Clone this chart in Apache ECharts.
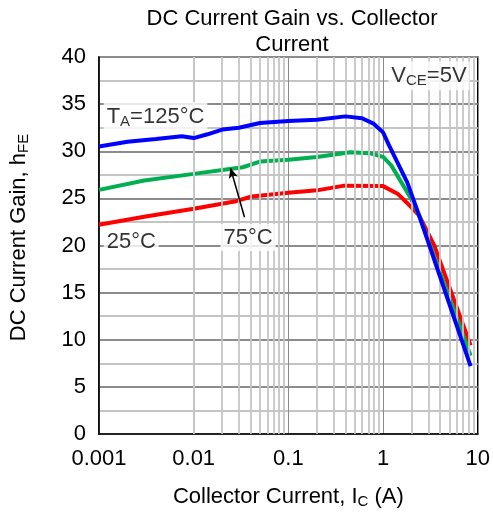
<!DOCTYPE html>
<html>
<head>
<meta charset="utf-8">
<script src="https://cdn.jsdelivr.net/npm/echarts@6/dist/echarts.min.js"></script>
<style>
  html, body { margin: 0; padding: 0; background: #fff; }
  #chart { width: 493px; height: 514px; }
</style>
</head>
<body>
<div id="chart"></div>
<script>
// collector current (A) and gain
var ic125 = [0.001, 0.002, 0.004, 0.0075, 0.01, 0.014, 0.02, 0.03, 0.05, 0.1, 0.2, 0.4, 0.6, 0.8, 1.0, 1.16, 1.8, 2.4, 8.4];
var hfe125 = [30.5, 31.0, 31.3, 31.6, 31.4, 31.8, 32.3, 32.5, 33.0, 33.2, 33.35, 33.7, 33.5, 32.9, 32.0, 30.6, 26.7, 23.2, 7.2];

var ic75 = [0.001, 0.003, 0.01, 0.023, 0.033, 0.05, 0.1, 0.2, 0.45, 0.72, 1.0, 1.22, 1.97, 2.4, 8.4];
var hfe75 = [25.9, 26.9, 27.6, 28.1, 28.3, 28.9, 29.1, 29.4, 29.9, 29.8, 29.4, 28.5, 25.0, 23.2, 8.3];

var ic25 = [0.001, 0.003, 0.01, 0.028, 0.041, 0.1, 0.2, 0.39, 1.0, 1.42, 1.82, 2.4, 3.47, 8.4];
var hfe25 = [22.2, 23.05, 23.9, 24.7, 25.2, 25.6, 25.85, 26.35, 26.3, 25.5, 24.45, 23.2, 20.0, 9.4];

var xTickLabels = ['0.001', '0.01', '0.1', '1', '10'];
var minorFactors = [2, 3, 4, 5, 6, 7, 8, 9];
var decades = [0.001, 0.01, 0.1, 1];

// annotation texts and where they sit (data coords)
var noteTexts = ['T{s|A}=125°C', '25°C', '75°C', 'V{s|CE}=5V'];
var noteX = [0.00112, 0.00112, 0.0375, 8.2];
var noteY = [33.7, 20.4, 20.85, 38.0];
var noteAlign = ['left', 'left', 'center', 'right'];
var arrowFrom = [0.0344, 23.0];
var arrowTo = [0.0245, 28.2];

function pairs(xs, ys) {
    return xs.map(function(x, i) { return [x, ys[i]]; });
}

var minorLines = [];
decades.forEach(function(d) {
    minorFactors.forEach(function(f) {
        minorLines.push({ xAxis: +(d * f).toPrecision(3) });
    });
});

var font = 'Liberation Sans, Arial, sans-serif';
var subStyle = { fontSize: 15, verticalAlign: 'bottom', padding: [9, 0, 0, 0], fontFamily: font, color: '#000' };

var chart = echarts.init(document.getElementById('chart'));
chart.setOption({
    animation: false,
    backgroundColor: '#fff',
    textStyle: { fontFamily: font },
    title: {
        text: 'DC Current Gain vs. Collector\nCurrent',
        left: 287,
        top: 1,
        textAlign: 'center',
        textStyle: { fontFamily: font, fontSize: 22, fontWeight: 'normal', color: '#000', lineHeight: 26 }
    },
    grid: {
        left: 99, right: 12, top: 57, bottom: 77,
        show: true, borderColor: '#000', borderWidth: 1.5
    },
    xAxis: {
        type: 'log',
        logBase: 10,
        min: 0.001,
        max: 10,
        name: 'Collector Current, I{s|C} (A)',
        nameLocation: 'middle',
        nameGap: 51,
        nameTextStyle: { fontSize: 22, color: '#000', fontFamily: font, rich: { s: subStyle } },
        axisLine: { show: true, lineStyle: { color: '#000', width: 1.5 } },
        axisTick: { show: false },
        axisLabel: {
            fontSize: 22, color: '#000', margin: 14, fontFamily: font,
            formatter: function(v) {
                var k = Math.round(Math.log10(v) + 3);
                return xTickLabels[k] || '';
            }
        },
        splitLine: { show: true, lineStyle: { color: '#8a8a8a', width: 1 } }
    },
    yAxis: {
        type: 'value',
        min: 0,
        max: 40,
        interval: 5,
        name: 'DC Current Gain, h{s|FE}',
        nameLocation: 'middle',
        nameGap: 68,
        nameRotate: 90,
        nameTextStyle: { fontSize: 22, color: '#000', fontFamily: font, padding: [0, 0, 0, 16], rich: { s: subStyle } },
        axisLine: { show: true, lineStyle: { color: '#000', width: 1.5 } },
        axisTick: { show: false },
        axisLabel: { fontSize: 22, color: '#000', margin: 13, fontFamily: font },
        splitLine: { show: true, lineStyle: { color: '#8c8c8c', width: 2 } },
        minorTick: { show: false, splitNumber: 2 },
        minorSplitLine: { show: true, lineStyle: { color: '#c4c4c4', width: 2 } }
    },
    series: [
        {
            // light log gridlines 2..9 in each decade
            type: 'line',
            data: [],
            silent: true,
            z: 1,
            markLine: {
                silent: true,
                symbol: 'none',
                label: { show: false },
                lineStyle: { color: '#c6c6c6', width: 1.8, type: 'solid' },
                data: minorLines
            }
        },
        {
            name: '25°C', type: 'line', data: pairs(ic25, hfe25),
            showSymbol: false, smooth: false, z: 3,
            lineStyle: { color: '#ff0000', width: 4 }, itemStyle: { color: '#ff0000' }
        },
        {
            name: '75°C', type: 'line', data: pairs(ic75, hfe75),
            showSymbol: false, smooth: false, z: 4,
            lineStyle: { color: '#00b050', width: 4 }, itemStyle: { color: '#00b050' }
        },
        {
            name: '125°C', type: 'line', data: pairs(ic125, hfe125),
            showSymbol: false, smooth: false, z: 5,
            lineStyle: { color: '#0000ff', width: 4 }, itemStyle: { color: '#0000ff' }
        },
        {
            type: 'scatter',
            symbolSize: 0,
            silent: true,
            z: 6,
            data: noteTexts.map(function(t, i) {
                return {
                    value: [noteX[i], noteY[i]],
                    label: {
                        show: true,
                        position: 'inside',
                        align: noteAlign[i],
                        verticalAlign: 'middle',
                        formatter: t,
                        fontSize: 22,
                        fontFamily: font,
                        color: '#000',
                        backgroundColor: '#fff',
                        padding: [3, 3, 2, 3],
                        rich: { s: subStyle }
                    }
                };
            }),
            markLine: {
                silent: true,
                symbol: ['none', 'arrow'],
                symbolSize: [7, 10],
                label: { show: false },
                lineStyle: { color: '#000', width: 1.5, type: 'solid' },
                data: [[{ coord: arrowFrom }, { coord: arrowTo }]]
            }
        }
    ]
});
</script>
</body>
</html>
